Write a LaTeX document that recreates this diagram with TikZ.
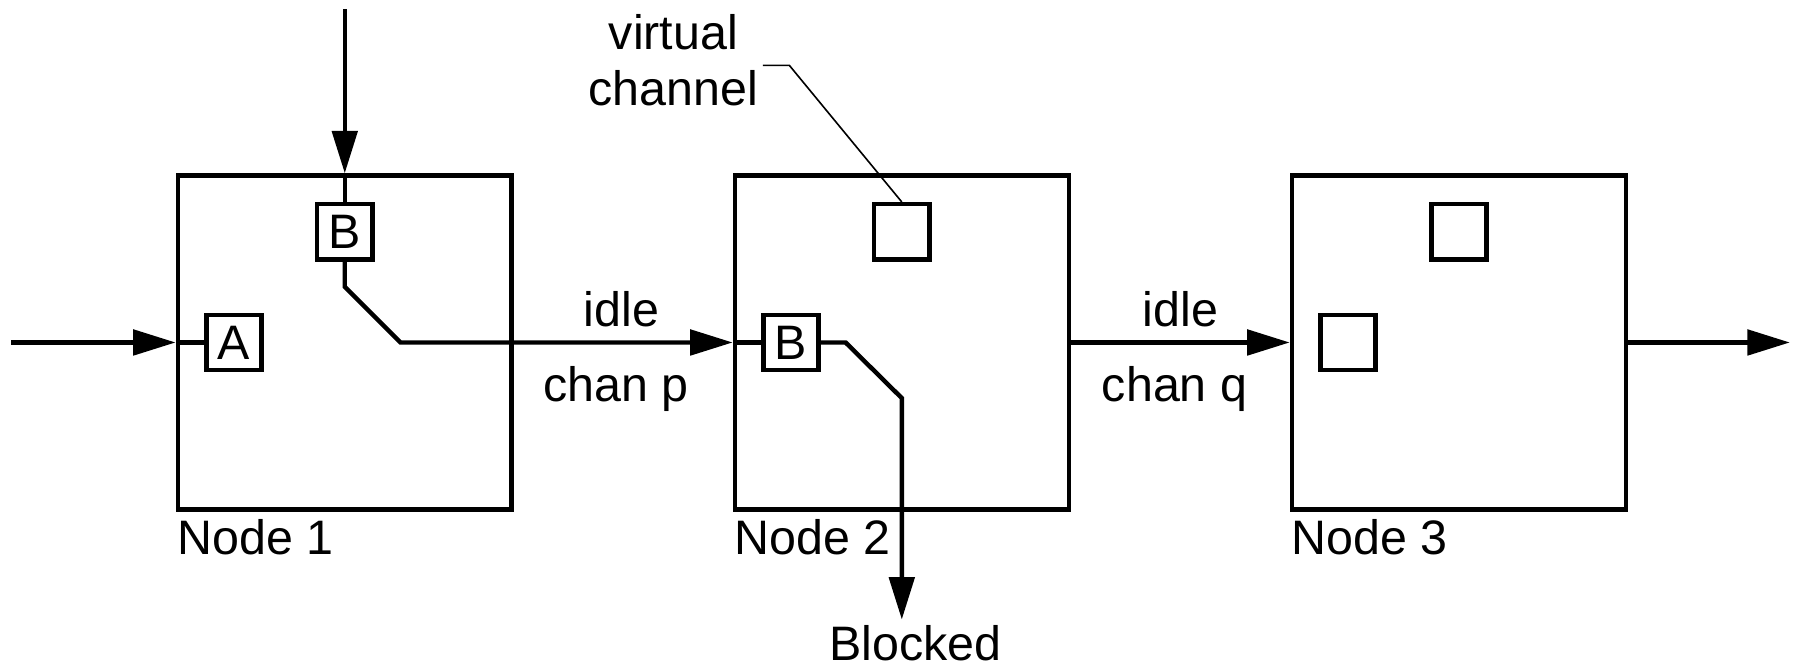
\documentclass[tikz,border=0pt]{standalone}
\usepackage{fontspec}
\setmainfont{Liberation Sans}
\usetikzlibrary{arrows.meta}

\begin{document}
\begin{tikzpicture}[line width=1.1pt,
        font=\fontsize{12}{13.9}\selectfont,
        router/.style={draw,minimum size=2.91cm,inner sep=0pt,
            label={[anchor=north west,inner xsep=0pt,inner ysep=1.4pt]south west:#1}},
        vc/.style={draw,minimum size=0.48cm,inner sep=0pt},
        link/.style={-{Triangle[length=3.7mm,width=2.2mm]}}]

    \useasboundingbox (0,0) rectangle (15.68,5.80);

    \node[router=Node 1] (n1) at (3.005,2.815) {};
    \node[router=Node 2] (n2) at (7.86,2.815) {};
    \node[router=Node 3] (n3) at (12.715,2.815) {};

    \node[vc] (a1) at (2.04,2.815) {A};
    \node[vc] (b1) at (3.005,3.78) {B};
    \node[vc] (b2) at (6.895,2.815) {B};
    \node[vc] (v2) at (7.86,3.78) {};
    \node[vc] (w3) at (11.75,2.815) {};
    \node[vc] (v3) at (12.715,3.78) {};

    \node[align=center] (vtxt) at (5.87,5.275) {virtual\\channel};
    \node (blk) at (7.98,0.19) {Blocked};

    \coordinate (in1) at (0.10,2.815);
    \coordinate (in2) at (3.005,5.72);
    \coordinate (stop) at (7.86,0.40);
    \coordinate (out) at (15.60,2.815);
    \coordinate (lead) at (6.65,5.23);

    \draw[link] (in1) -- (n1.west);
    \draw (n1.west) -- (a1.west);
    \draw[link] (in2) -- (n1.north);
    \draw (n1.north) -- (b1.north);

    \draw[link] (b1.south) -- (3.005,3.30) -- (3.49,2.815) -- (n2.west)
        node[pos=0.665,above] {idle}
        node[pos=0.648,below,yshift=-2pt] {chan p};
    \draw (n2.west) -- (b2.west);
    \draw[link] (b2.east) -- (7.37,2.815) -- (7.86,2.33) -- (stop);

    \draw[link] (n2.east) -- (n3.west)
        node[midway,above] {idle}
        node[midway,below,yshift=-2pt,xshift=-0.05cm] {chan q};
    \draw[link] (n3.east) -- (out);

    \draw[thin] (lead) -- ++(0.23,0) -- (v2.north);
\end{tikzpicture}
\end{document}
